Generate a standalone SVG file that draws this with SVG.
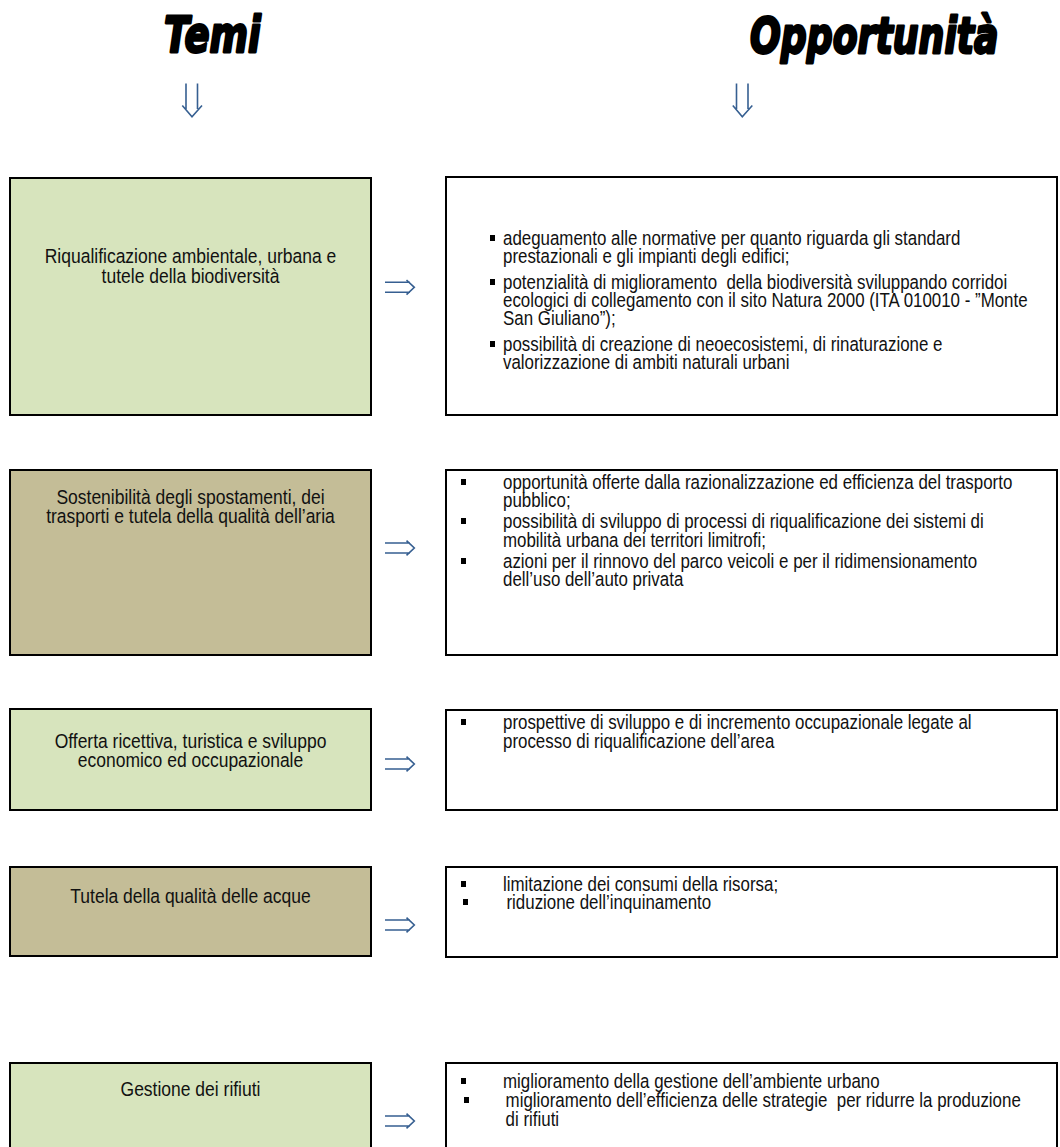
<svg xmlns="http://www.w3.org/2000/svg" width="1060" height="1147" viewBox="0 0 1060 1147">
<style>
.bg{fill:#ffffff}
.green{fill:#d7e4bd;stroke:#000;stroke-width:2}
.tan{fill:#c4bd97;stroke:#000;stroke-width:2}
.opp{fill:#ffffff;stroke:#000;stroke-width:2}
.t{font-family:"Liberation Sans",Arial,sans-serif;font-size:20.5px;fill:#111111}
.r{font-family:"Liberation Sans",Arial,sans-serif;font-size:19.5px;fill:#111111;white-space:pre}
.c{text-anchor:middle}
.title{font-family:"DejaVu Sans","Liberation Sans",sans-serif;font-weight:bold;font-style:italic;font-size:50px;fill:#000;stroke:#000;stroke-width:2.8;stroke-linejoin:round}
.arr{fill:none;stroke:#365f91;stroke-width:1.6;stroke-linejoin:miter}
.bul{fill:#000}
</style>
<rect class="bg" x="0" y="0" width="1060" height="1147"/>

<g id="titles">
<g transform="translate(164,52) scale(0.74,1)">
<text class="title" x="0" y="0">Temi</text>
</g>
<g transform="translate(750,53) scale(0.725,1)">
<text class="title" x="0" y="0">Opportunità</text>
</g>
</g>

<g id="connectors">
<path class="arr" d="M186,83.5 V109 M197.5,83.5 V109 M182.3,105.5 L192,116.7 L202,105.5"/>
<path class="arr" d="M736.5,83.5 V109 M748,83.5 V109 M732.8,105.5 L742.3,116.7 L752.3,105.5"/>
<path class="arr" d="M385,282.3 H410 M385,292.3 H410 M406.5,280 L414.3,287.3 L406.5,294.6"/>
<path class="arr" d="M385,543 H410 M385,553 H410 M406.5,540.7 L414.3,548 L406.5,555.3"/>
<path class="arr" d="M385,759 H410 M385,769 H410 M406.5,756.7 L414.3,764 L406.5,771.3"/>
<path class="arr" d="M385,920 H410 M385,930 H410 M406.5,917.7 L414.3,925 L406.5,932.3"/>
<path class="arr" d="M385,1116 H410 M385,1126 H410 M406.5,1113.7 L414.3,1121 L406.5,1128.3"/>
</g>

<g id="tema1">
<rect class="green" x="10" y="178" width="361" height="237"/>
<g transform="translate(190.5,0) scale(0.853,1)">
<text class="t c" x="0" y="263">Riqualificazione ambientale, urbana e</text>
<text class="t c" x="0" y="283">tutele della biodiversità</text>
</g>
</g>

<g id="opp1">
<rect class="opp" x="446" y="177" width="611" height="238"/>
<rect class="bul" x="490" y="235" width="5" height="6"/>
<rect class="bul" x="490" y="279" width="5" height="6"/>
<rect class="bul" x="490" y="341" width="5" height="6"/>
<g transform="translate(503,0) scale(0.867,1)">
<text class="r" x="0" y="245" xml:space="preserve">adeguamento alle normative per quanto riguarda gli standard</text>
<text class="r" x="0" y="263" xml:space="preserve">prestazionali e gli impianti degli edifici;</text>
<text class="r" x="0" y="289" xml:space="preserve">potenzialità di miglioramento  della biodiversità sviluppando corridoi</text>
<text class="r" x="0" y="307" xml:space="preserve">ecologici di collegamento con il sito Natura 2000 (ITA 010010 - ”Monte</text>
<text class="r" x="0" y="325" xml:space="preserve">San Giuliano”);</text>
<text class="r" x="0" y="351" xml:space="preserve">possibilità di creazione di neoecosistemi, di rinaturazione e</text>
<text class="r" x="0" y="369" xml:space="preserve">valorizzazione di ambiti naturali urbani</text>
</g>
</g>

<g id="tema2">
<rect class="tan" x="10" y="470" width="361" height="185"/>
<g transform="translate(190.5,0) scale(0.853,1)">
<text class="t c" x="0" y="504">Sostenibilità degli spostamenti, dei</text>
<text class="t c" x="0" y="523.5">trasporti e tutela della qualità dell’aria</text>
</g>
</g>

<g id="opp2">
<rect class="opp" x="446" y="470" width="611" height="185"/>
<rect class="bul" x="461" y="479" width="5" height="6"/>
<rect class="bul" x="461" y="518" width="5" height="6"/>
<rect class="bul" x="461" y="558" width="5" height="6"/>
<g transform="translate(503,0) scale(0.867,1)">
<text class="r" x="0" y="489">opportunità offerte dalla razionalizzazione ed efficienza del trasporto</text>
<text class="r" x="0" y="507">pubblico;</text>
<text class="r" x="0" y="528">possibilità di sviluppo di processi di riqualificazione dei sistemi di</text>
<text class="r" x="0" y="547">mobilità urbana dei territori limitrofi;</text>
<text class="r" x="0" y="568">azioni per il rinnovo del parco veicoli e per il ridimensionamento</text>
<text class="r" x="0" y="586">dell’uso dell’auto privata</text>
</g>
</g>

<g id="tema3">
<rect class="green" x="10" y="709" width="361" height="101"/>
<g transform="translate(190.5,0) scale(0.853,1)">
<text class="t c" x="0" y="748">Offerta ricettiva, turistica e sviluppo</text>
<text class="t c" x="0" y="767.5">economico ed occupazionale</text>
</g>
</g>

<g id="opp3">
<rect class="opp" x="446" y="710" width="611" height="100"/>
<rect class="bul" x="461" y="719" width="5" height="6"/>
<g transform="translate(503,0) scale(0.867,1)">
<text class="r" x="0" y="729">prospettive di sviluppo e di incremento occupazionale legate al</text>
<text class="r" x="0" y="748">processo di riqualificazione dell’area</text>
</g>
</g>

<g id="tema4">
<rect class="tan" x="10" y="867" width="361" height="89"/>
<g transform="translate(190.5,0) scale(0.853,1)">
<text class="t c" x="0" y="903">Tutela della qualità delle acque</text>
</g>
</g>

<g id="opp4">
<rect class="opp" x="446" y="867" width="611" height="90"/>
<rect class="bul" x="461" y="881" width="5" height="6"/>
<rect class="bul" x="463" y="899" width="5" height="6"/>
<g transform="translate(503,0) scale(0.867,1)">
<text class="r" x="0" y="891">limitazione dei consumi della risorsa;</text>
<text class="r" x="4" y="909">riduzione dell’inquinamento</text>
</g>
</g>

<g id="tema5">
<rect class="green" x="10" y="1063" width="361" height="100"/>
<g transform="translate(190.5,0) scale(0.853,1)">
<text class="t c" x="0" y="1096">Gestione dei rifiuti</text>
</g>
</g>

<g id="opp5">
<rect class="opp" x="446" y="1063" width="611" height="100"/>
<rect class="bul" x="461" y="1078" width="5" height="6"/>
<rect class="bul" x="464" y="1097" width="5" height="6"/>
<g transform="translate(503,0) scale(0.867,1)">
<text class="r" x="0" y="1088">miglioramento della gestione dell’ambiente urbano</text>
<text class="r" x="3" y="1107" xml:space="preserve">miglioramento dell’efficienza delle strategie  per ridurre la produzione</text>
<text class="r" x="3" y="1126">di rifiuti</text>
</g>
</g>
</svg>
